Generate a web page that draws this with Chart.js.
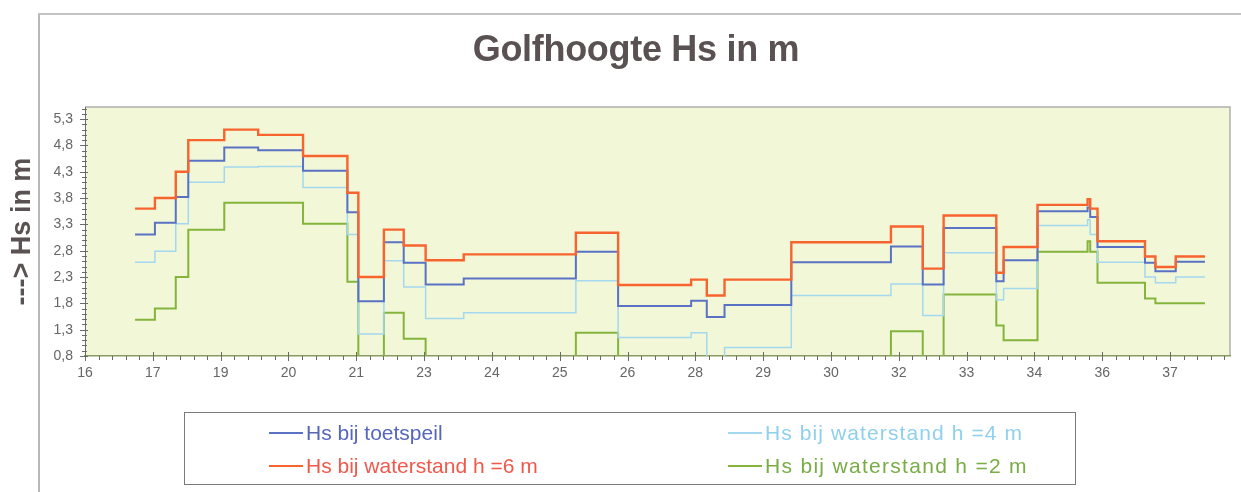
<!DOCTYPE html>
<html>
<head>
<meta charset="utf-8">
<script src="https://cdn.jsdelivr.net/npm/chart.js@4/dist/chart.umd.min.js"></script>
<style>
  html, body { margin: 0; padding: 0; background: #ffffff; }
  #wrap { position: relative; width: 1241px; height: 492px; overflow: hidden; font-family: "Liberation Sans", Arial, sans-serif; }
  #frame { position: absolute; left: 38px; top: 13px; width: 1300px; height: 600px; border-top: 2px solid #c4c4c4; border-left: 2px solid #b8b8b8; }
  #title { position: absolute; left: 386px; width: 500px; top: 29px; text-align: center; font-weight: bold; font-size: 36px; line-height: 40px; color: #5a5252; letter-spacing: -0.3px; }
  canvas { position: absolute; left: 0; top: 0; }
  #legend { position: absolute; left: 184px; top: 412px; width: 892px; height: 73px; border: 1px solid #7a7a7a; box-sizing: border-box; }
  .item { position: absolute; height: 24px; font-size: 21px; line-height: 24px; white-space: nowrap; }
  .item span.ln { display: inline-block; width: 34px; height: 2px; vertical-align: middle; margin-right: 3px; position: relative; top: -1px; }
</style>
</head>
<body>
<div id="wrap">
  <div id="frame"></div>
  <canvas id="c" width="1241" height="492"></canvas>
  <div id="title">Golfhoogte Hs in m</div>
  <div id="legend"></div>
</div>
<script>
// ---- data ----
const sectionStarts = [16.96, 17.34, 17.74, 17.98, 18.67, 19.32, 20.18, 21.03, 21.24, 21.73, 22.11, 22.53, 23.26, 25.41, 26.22, 27.62, 27.92, 28.26, 29.54, 31.45, 32.06, 32.46, 33.47, 33.61, 34.26, 35.22, 35.27, 35.41, 36.32, 36.52, 36.91, 37.47];
const hsToetspeil = [3.11, 3.33, 3.82, 4.51, 4.76, 4.71, 4.32, 3.53, 1.84, 2.96, 2.57, 2.16, 2.27, 2.78, 1.75, 1.85, 1.54, 1.77, 2.58, 2.88, 2.16, 3.23, 2.22, 2.62, 3.55, 3.62, 3.44, 2.87, 2.57, 2.41, 2.59, 2.59];
const hsH6 = [3.6, 3.8, 4.3, 4.9, 5.1, 5.0, 4.6, 3.9, 2.3, 3.2, 2.9, 2.62, 2.73, 3.14, 2.15, 2.25, 1.95, 2.25, 2.96, 3.26, 2.46, 3.47, 2.38, 2.87, 3.67, 3.78, 3.6, 2.98, 2.69, 2.49, 2.69, 2.69];
const hsH4 = [2.58, 2.79, 3.31, 4.10, 4.39, 4.40, 4.00, 3.11, 1.22, 2.61, 2.11, 1.51, 1.62, 2.23, 1.15, 1.24, 0.7, 0.96, 1.95, 2.17, 1.57, 2.76, 1.87, 2.08, 3.28, 3.39, 3.11, 2.58, 2.30, 2.19, 2.30, 2.30];
const hsH2 = [1.49, 1.70, 2.30, 3.20, 3.71, 3.71, 3.31, 2.21, 0.7, 1.62, 1.13, 0.7, 0.7, 1.24, 0.7, 0.7, 0.7, 0.7, 0.7, 1.27, 0.7, 1.97, 1.38, 1.10, 2.78, 2.98, 2.78, 2.19, 1.89, 1.80, 1.80, 1.80];
const seriesNames = ["Hs bij toetspeil", "Hs bij waterstand h =6 m", "Hs bij waterstand h =4 m", "Hs bij waterstand h =2 m"];
const xTickLabels = ["16", "17", "19", "20", "21", "23", "24", "25", "26", "28", "29", "30", "32", "33", "34", "36", "37"];
const xTickStart = 16, xTickStep = 1.3;
const yTickLabels = ["0,8", "1,3", "1,8", "2,3", "2,8", "3,3", "3,8", "4,3", "4,8", "5,3"];
const yTickStart = 0.8, yTickStep = 0.5;
const yTitle = "---> Hs in m";

const toPts = vals => sectionStarts.map((x, i) => ({ x: x, y: vals[i] }));

const seriesColors = ["#5a72c4", "#f7642f", "#a3d8f0", "#84b43c"];
const legendTextColors = ["#5666b8", "#f0584a", "#8fd0ee", "#78ac44"];
const widths = [2, 2.4, 1.5, 2];
const seriesVals = [hsToetspeil, hsH6, hsH4, hsH2];

// drawing order: red on top, then blue, light blue, green
const drawOrder = [1, 0, 2, 3];
const datasets = seriesVals.map((v, i) => ({
  label: seriesNames[i],
  data: toPts(v),
  borderColor: seriesColors[i],
  backgroundColor: seriesColors[i],
  borderWidth: widths[i],
  pointRadius: 0,
  stepped: 'before',
  fill: false,
  order: drawOrder.indexOf(i)
}));

const bgPlugin = {
  id: 'bg',
  beforeDraw(chart) {
    const { ctx, chartArea: a } = chart;
    ctx.save();
    ctx.fillStyle = '#f2f7d7';
    ctx.fillRect(a.left, a.top, a.right - a.left, a.bottom - a.top);
    ctx.strokeStyle = '#b0b0b0';
    ctx.lineWidth = 1.5;
    ctx.beginPath();
    ctx.moveTo(a.left, a.top);
    ctx.lineTo(a.right, a.top);
    ctx.lineTo(a.right, a.bottom);
    ctx.stroke();
    ctx.restore();
  },
  afterDraw(chart) {
    const { ctx, chartArea: a } = chart;
    const xs = chart.scales.x, ys = chart.scales.y;
    ctx.save();
    ctx.strokeStyle = '#6a6a6a';
    ctx.lineWidth = 1;
    ctx.beginPath();
    for (let i = 0; i < 90; i++) {
      const v = xTickStart + i * xTickStep / 5;
      if (v > xs.max) break;
      const px = Math.round(xs.getPixelForValue(v)) + 0.5;
      const major = i % 5 === 0;
      ctx.moveTo(px, a.bottom - (major ? 4 : 0));
      ctx.lineTo(px, a.bottom + (major ? 5 : 4));
    }
    for (let i = 0; i < 60; i++) {
      const v = yTickStart + i * yTickStep / 5;
      if (v > ys.max) break;
      const py = Math.round(ys.getPixelForValue(v)) + 0.5;
      const major = i % 5 === 0;
      ctx.moveTo(a.left - (major ? 5 : 3), py);
      ctx.lineTo(a.left + (major ? 3 : 2), py);
    }
    ctx.stroke();
    ctx.restore();
  }
};

new Chart(document.getElementById('c'), {
  type: 'line',
  data: { datasets: datasets },
  plugins: [bgPlugin],
  options: {
    responsive: false,
    animation: false,
    layout: { padding: { left: 0, right: 11, top: 107, bottom: 96 } },
    plugins: { legend: { display: false }, title: { display: false }, tooltip: { enabled: false } },
    scales: {
      x: {
        type: 'linear',
        min: 16,
        max: 37.95,
        afterFit(s) { s.height = 40; },
        afterBuildTicks(s) { s.ticks = xTickLabels.map((l, i) => ({ value: +(xTickStart + i * xTickStep).toFixed(2) })); },
        ticks: {
          callback: (v, i) => xTickLabels[i],
          color: '#666666',
          font: { family: 'Liberation Sans', size: 14 },
          padding: 9,
          maxRotation: 0,
          autoSkip: false
        },
        grid: { drawOnChartArea: false, drawTicks: true, tickLength: 0, color: 'rgba(0,0,0,0)' },
        border: { display: true, color: '#8a9a60', width: 1.5 }
      },
      y: {
        type: 'linear',
        min: 0.8,
        max: 5.53,
        afterFit(s) { s.width = 85; },
        afterBuildTicks(s) { s.ticks = yTickLabels.map((l, i) => ({ value: +(yTickStart + i * yTickStep).toFixed(2) })); },
        ticks: {
          callback: (v, i) => yTickLabels[i],
          color: '#666666',
          font: { family: 'Liberation Sans', size: 14 },
          padding: 12,
          autoSkip: false
        },
        grid: { drawOnChartArea: false, drawTicks: true, tickLength: 0, color: 'rgba(0,0,0,0)' },
        border: { display: true, color: '#6a6a6a', width: 1 },
        title: {
          display: true,
          text: yTitle,
          color: '#5a5252',
          font: { family: 'Liberation Sans', size: 27, weight: 'bold' },
          padding: { top: 6, bottom: 0 }
        }
      }
    }
  }
});

// HTML legend built from the dataset names/colours
const legendPos = [[84, 8], [84, 41], [543, 8], [543, 41]];
const legendSpacing = [0, 0, 1.1, 1.3];
const lg = document.getElementById('legend');
seriesNames.forEach((name, i) => {
  const d = document.createElement('div');
  d.className = 'item';
  d.style.left = legendPos[i][0] + 'px';
  d.style.top = legendPos[i][1] + 'px';
  d.style.color = legendTextColors[i];
  d.style.letterSpacing = legendSpacing[i] + 'px';
  const ln = document.createElement('span');
  ln.className = 'ln';
  ln.style.background = seriesColors[i];
  d.appendChild(ln);
  d.appendChild(document.createTextNode(name));
  lg.appendChild(d);
});
</script>
</body>
</html>
